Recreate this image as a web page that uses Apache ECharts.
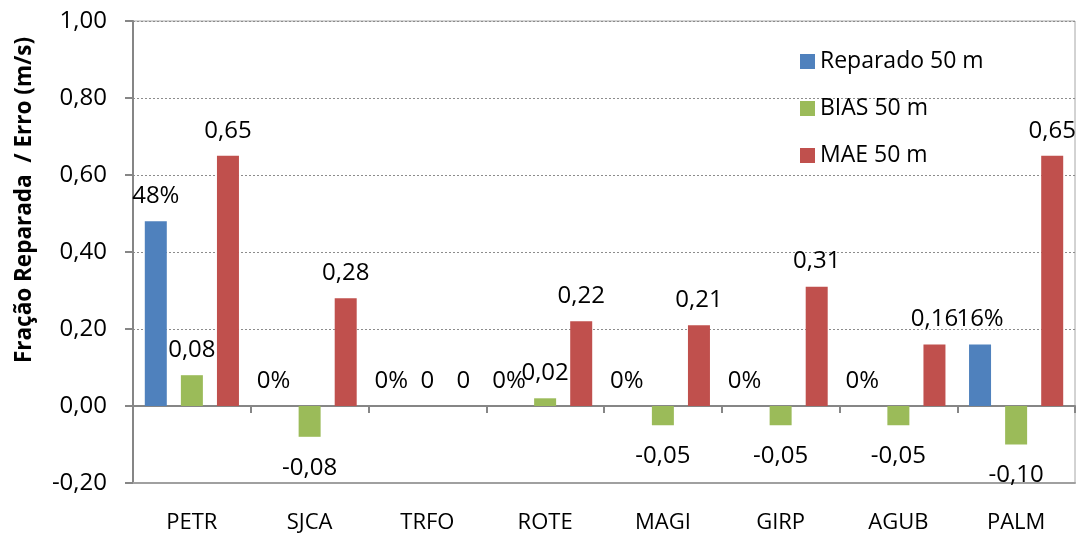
<!DOCTYPE html>
<html>
<head>
<meta charset="utf-8">
<script src="https://cdn.jsdelivr.net/npm/echarts@6/dist/echarts.min.js"></script>
<style>
  html, body { margin: 0; padding: 0; background: #fff; }
  #chart { width: 1077px; height: 535px; }
</style>
</head>
<body>
<div id="chart"></div>
<script>
// Stations along the x axis
const stations = ['PETR', 'SJCA', 'TRFO', 'ROTE', 'MAGI', 'GIRP', 'AGUB', 'PALM'];
// Fraction repaired (shown as percent)
const reparado50 = [0.48, 0, 0, 0, 0, 0, 0, 0.16];
// Bias of wind speed (m/s)
const bias50 = [0.08, -0.08, 0, 0.02, -0.05, -0.05, -0.05, -0.10];
// Mean absolute error (m/s)
const mae50 = [0.65, 0.28, 0, 0.22, 0.21, 0.31, 0.16, 0.65];
// Value axis range
const yMin = -0.20, yMax = 1.00, yStep = 0.20;

const FONT = '"Open Sans", "Noto Sans", sans-serif';
const BLUE = '#4F81BD', GREEN = '#9BBB59', RED = '#C0504D';

const fmtDec = v => v.toFixed(2).replace('.', ',');
const fmtErr = v => (v === 0 ? '0' : fmtDec(v));
const fmtPct = v => Math.round(v * 100) + '%';

function barSeries(name, values, color, fmt) {
  // labels sit above zero/positive bars and below negative ones
  const data = values.map(v => ({
    value: v,
    label: { position: v < 0 ? 'bottom' : 'top', distance: v < 0 ? 19 : 13 }
  }));
  return {
    name,
    type: 'bar',
    xAxisIndex: 0,
    yAxisIndex: 0,
    data,
    barWidth: 22,
    barGap: '64%',
    barCategoryGap: '20%',
    itemStyle: { color },
    label: {
      show: true,
      color: '#000',
      fontFamily: FONT,
      fontSize: 24,
      formatter: p => fmt(p.value)
    }
  };
}

const chart = echarts.init(document.getElementById('chart'), null, { renderer: 'canvas' });
chart.setOption({
  animation: false,
  backgroundColor: '#fff',
  textStyle: { fontFamily: FONT },
  grid: {
    left: 133, right: 2, top: 21, bottom: 52,
    outerBoundsMode: 'none',
    containLabel: false,
    show: true, borderColor: '#a6a6a6', borderWidth: 1
  },
  legend: {
    orient: 'vertical',
    left: 800,
    top: 50,
    padding: 0,
    itemWidth: 15,
    itemHeight: 15,
    itemGap: 24,
    icon: 'rect',
    textStyle: { fontFamily: FONT, fontSize: 23, color: '#000', lineHeight: 23 },
    data: ['Reparado 50 m', 'BIAS 50 m', 'MAE 50 m']
  },
  xAxis: [
    {
      type: 'category',
      data: stations,
      position: 'bottom',
      axisLine: { show: true, onZero: false, lineStyle: { color: '#a0a0a0', width: 2 } },
      axisTick: { show: false },
      axisLabel: { color: '#000', fontFamily: FONT, fontSize: 22, margin: 29 },
      splitLine: { show: false }
    },
    {
      // zero line with category separators
      type: 'category',
      data: stations,
      position: 'top',
      axisLine: { show: true, onZero: true, lineStyle: { color: '#868686', width: 2 } },
      axisTick: { show: true, inside: true, length: 7, lineStyle: { color: '#868686', width: 2 } },
      axisLabel: { show: false },
      splitLine: { show: false }
    }
  ],
  yAxis: {
    type: 'value',
    min: yMin,
    max: yMax,
    interval: yStep,
    axisLine: { show: true, lineStyle: { color: '#868686', width: 2 } },
    axisTick: { show: true, inside: false, length: 8, lineStyle: { color: '#868686', width: 2 } },
    axisLabel: { color: '#000', fontFamily: FONT, fontSize: 24, margin: 26, formatter: v => fmtDec(v) },
    splitLine: { show: true, lineStyle: { color: '#8c8c8c', type: [2, 2], width: 1 } }
  },
  graphic: [{
    type: 'text',
    x: 25,
    y: 200,
    rotation: Math.PI / 2,
    style: {
      text: 'Fração Reparada  / Erro (m/s)',
      fontFamily: FONT,
      fontSize: 22.5,
      fontWeight: 'bold',
      fill: '#000',
      align: 'center',
      verticalAlign: 'middle'
    }
  }],
  series: [
    barSeries('Reparado 50 m', reparado50, BLUE, fmtPct),
    barSeries('BIAS 50 m', bias50, GREEN, fmtErr),
    barSeries('MAE 50 m', mae50, RED, fmtErr)
  ]
});
</script>
</body>
</html>
